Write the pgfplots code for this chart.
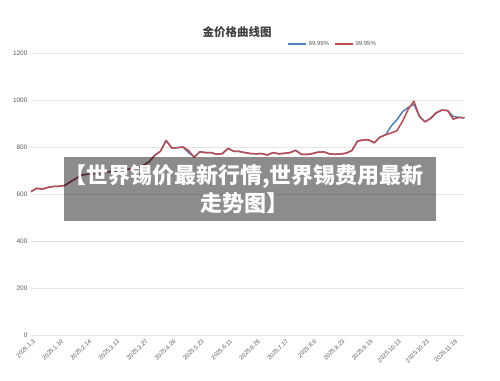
\documentclass[border=0pt]{standalone}
\usepackage{pgfplots}
\usepackage{pgfplotstable}
\pgfplotsset{compat=1.18}
\usepackage{fontspec}
\setmainfont{Liberation Sans}
\newfontfamily\cjk{Noto Sans CJK SC}
\definecolor{sblue}{HTML}{4F81BD}
\definecolor{sred}{HTML}{BE4B4F}
\definecolor{tgray}{HTML}{595959}
\definecolor{ggray}{HTML}{E3E3E3}
\definecolor{titlegray}{HTML}{404040}

\pgfplotstableread{
i b r
0 610 610
1 624 624
2 621 621
3 628 628
4 632 632
5 633 633
6 636 636
7 652 652
8 666 666
9 681 681
10 684 684
11 686 686
12 690 690
13 692 692
14 695 695
15 698 698
16 702 702
17 705 705
18 708 708
19 712 712
20 722 722
21 738 738
22 765 765
23 782 782
24 828 828
25 796 796
26 797 797
27 800 800
28 776 785
29 758 756
30 780 780
31 776 776
32 776 776
33 769 769
34 772 772
35 794 794
36 782 782
37 781 781
38 776 776
39 772 772
40 771 771
41 772 772
42 766 766
43 776 776
44 771 771
45 773 773
46 776 776
47 786 786
48 769 769
49 768 768
50 772 772
51 778 778
52 779 779
53 771 771
54 769 769
55 770 770
56 774 774
57 785 785
58 825 825
59 830 830
60 830 830
61 818 818
62 842 842
63 852 852
64 890 860
65 916 869
66 950 910
67 968 960
68 982 995
69 930 930
70 907 907
71 922 922
72 946 946
73 957 957
74 955 955
75 930 918
76 926 926
77 924 924
}\data

\begin{document}
\begin{tikzpicture}
\begin{axis}[
  at={(0,0)}, anchor=south west,
  scale only axis, width=433.5pt, height=282pt,
  xmin=0, xmax=77, ymin=0, ymax=1200,
  ytick={0,200,...,1200},
  xtick={0,5,...,75},
  xticklabels={2025.1.3,2025.1.10,2025.2.14,2025.3.13,2025.3.27,2025.4.26,2025.5.23,2025.6.11,2025.6.26,2025.7.17,2025.8.6,2025.8.23,2025.9.19,2025.10.13,2025.10.23,2025.11.19},
  ymajorgrids,
  major grid style={ggray, line width=0.6pt},
  axis line style={draw=none},
  major tick length=0pt,
  yticklabel style={font=\fontsize{6.5}{7}\selectfont, text=tgray},
  xticklabel style={font=\fontsize{6}{6.5}\selectfont, text=tgray, rotate=45, anchor=north east, inner sep=1.5pt, yshift=-2pt},
  /pgf/number format/1000 sep={},
  /pgf/number format/assume math mode=true,
  clip=false,
  legend columns=2,
  legend cell align=left,
  legend style={at={(0.5905,1.032)}, anchor=west, draw=none, fill=none,
    font=\fontsize{6}{7}\selectfont, text=tgray, inner sep=0pt,
    /tikz/every even column/.append style={column sep=3pt}},
  legend image code/.code={\draw[#1, line width=1.5pt] (0pt,0pt) -- (18pt,0pt);},
]
\addplot[sblue, line width=1.5pt, line join=round] table[x=i, y=b] {\data};
\addlegendentry{99.99\%}
\addplot[sred, line width=1.5pt, line join=round] table[x=i, y=r] {\data};
\addlegendentry{99.95\%}
\end{axis}
\node[font=\cjk\bfseries\fontsize{11.5}{12}\selectfont, text=titlegray] at (206pt,303pt) {金价格曲线图};
\fill[black, opacity=0.45] (33pt,114pt) rectangle (405pt,178pt);
\node[text=white, font=\cjk\bfseries\fontsize{22}{28}\selectfont, align=center] at (213pt,146pt) {【世界锡价最新行情,世界锡费用最新\\走势图】};
\pgfresetboundingbox
\useasboundingbox (-31pt,-45pt) rectangle (469pt,335pt);
\end{tikzpicture}
\end{document}
